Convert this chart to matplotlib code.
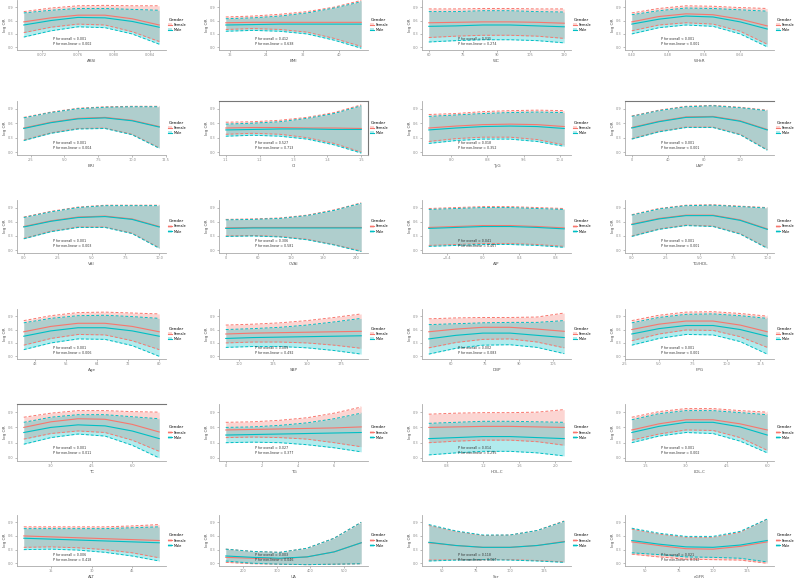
import matplotlib.pyplot as plt
from matplotlib.patches import Patch
from matplotlib.lines import Line2D
from matplotlib.ticker import MaxNLocator

# panel order: row by row, 4 panels per row
x_names = ["ABSI", "BMI", "WC", "WHtR",
           "BRI", "CI", "TyG", "LAP",
           "VAI", "CVAI", "AIP", "TG/HDL",
           "Age", "SBP", "DBP", "FPG",
           "TC", "TG", "HDL-C", "LDL-C",
           "ALT", "UA", "Scr", "eGFR"]

x_values = [
    [0.070, 0.073, 0.076, 0.079, 0.082, 0.085],
    [15, 21, 27, 33, 39, 45],
    [60, 72, 84, 96, 108, 120],
    [0.40, 0.46, 0.52, 0.58, 0.64, 0.70],
    [2, 4, 6, 8, 10, 12],
    [1.1, 1.18, 1.26, 1.34, 1.42, 1.50],
    [7.5, 8.1, 8.7, 9.3, 9.9, 10.5],
    [0, 30, 60, 90, 120, 150],
    [0, 2, 4, 6, 8, 10],
    [0, 50, 100, 150, 200, 250],
    [-0.6, -0.3, 0.0, 0.3, 0.6, 0.9],
    [0, 2, 4, 6, 8, 10],
    [45, 52, 59, 66, 73, 80],
    [90, 110, 130, 150, 170, 190],
    [50, 62, 74, 86, 98, 110],
    [3, 5, 7, 9, 11, 13],
    [2, 3, 4, 5, 6, 7],
    [0, 1.5, 3, 4.5, 6, 7.5],
    [0.6, 0.9, 1.2, 1.5, 1.8, 2.1],
    [1, 2, 3, 4, 5, 6],
    [5, 15, 25, 35, 45, 55],
    [150, 230, 310, 390, 470, 550],
    [40, 60, 80, 100, 120, 140],
    [40, 60, 80, 100, 120, 140],
]

female_fit = [
    [0.57, 0.66, 0.72, 0.72, 0.64, 0.50], [0.55, 0.56, 0.56, 0.56, 0.56, 0.56],
    [0.55, 0.56, 0.57, 0.57, 0.56, 0.54], [0.57, 0.69, 0.75, 0.73, 0.63, 0.48],
    [0.50, 0.62, 0.70, 0.72, 0.66, 0.53], [0.50, 0.51, 0.51, 0.50, 0.50, 0.49],
    [0.50, 0.54, 0.57, 0.58, 0.57, 0.53], [0.51, 0.64, 0.73, 0.74, 0.65, 0.47],
    [0.50, 0.62, 0.70, 0.72, 0.66, 0.50], [0.47, 0.48, 0.48, 0.48, 0.48, 0.48],
    [0.48, 0.50, 0.52, 0.52, 0.50, 0.47], [0.55, 0.67, 0.74, 0.74, 0.64, 0.45],
    [0.55, 0.67, 0.74, 0.74, 0.67, 0.55], [0.50, 0.52, 0.53, 0.54, 0.55, 0.56],
    [0.55, 0.61, 0.65, 0.65, 0.61, 0.56], [0.60, 0.72, 0.79, 0.79, 0.70, 0.55],
    [0.60, 0.71, 0.77, 0.76, 0.66, 0.51], [0.55, 0.56, 0.57, 0.58, 0.59, 0.61],
    [0.60, 0.61, 0.62, 0.62, 0.61, 0.60], [0.55, 0.67, 0.75, 0.75, 0.67, 0.55],
    [0.60, 0.58, 0.56, 0.54, 0.52, 0.50], [0.13, 0.11, 0.10, 0.14, 0.25, 0.45],
    [0.45, 0.39, 0.35, 0.35, 0.39, 0.48], [0.47, 0.39, 0.32, 0.31, 0.37, 0.47],
]
female_lo = [
    [0.33, 0.45, 0.52, 0.50, 0.35, 0.13], [0.40, 0.42, 0.40, 0.34, 0.20, 0.02],
    [0.22, 0.25, 0.27, 0.27, 0.25, 0.20], [0.37, 0.50, 0.55, 0.52, 0.36, 0.07],
    [0.25, 0.40, 0.49, 0.50, 0.37, 0.09], [0.37, 0.39, 0.37, 0.30, 0.18, 0.00],
    [0.22, 0.28, 0.31, 0.31, 0.26, 0.15], [0.28, 0.43, 0.52, 0.52, 0.37, 0.05],
    [0.25, 0.40, 0.49, 0.49, 0.36, 0.05], [0.30, 0.31, 0.29, 0.23, 0.12, -0.02],
    [0.10, 0.12, 0.14, 0.14, 0.12, 0.08], [0.30, 0.45, 0.53, 0.51, 0.35, 0.05],
    [0.25, 0.40, 0.49, 0.48, 0.35, 0.15], [0.30, 0.32, 0.32, 0.30, 0.25, 0.18],
    [0.19, 0.31, 0.38, 0.39, 0.32, 0.19], [0.35, 0.50, 0.59, 0.58, 0.44, 0.20],
    [0.37, 0.48, 0.53, 0.50, 0.35, 0.13], [0.40, 0.41, 0.40, 0.37, 0.30, 0.22],
    [0.30, 0.33, 0.35, 0.35, 0.32, 0.25], [0.35, 0.47, 0.55, 0.54, 0.40, 0.15],
    [0.35, 0.36, 0.34, 0.30, 0.23, 0.12], [0.02, -0.01, -0.02, -0.03, -0.02, -0.01],
    [0.07, 0.08, 0.08, 0.08, 0.06, 0.03], [0.20, 0.14, 0.09, 0.08, 0.07, 0.00],
]
female_hi = [
    [0.80, 0.88, 0.93, 0.94, 0.93, 0.93], [0.68, 0.70, 0.74, 0.80, 0.90, 1.05],
    [0.86, 0.86, 0.87, 0.87, 0.86, 0.86], [0.77, 0.87, 0.93, 0.92, 0.89, 0.87],
    [0.72, 0.83, 0.91, 0.94, 0.95, 0.95], [0.62, 0.63, 0.66, 0.72, 0.82, 0.98],
    [0.78, 0.80, 0.84, 0.86, 0.87, 0.86], [0.75, 0.87, 0.95, 0.97, 0.93, 0.87],
    [0.70, 0.82, 0.91, 0.95, 0.95, 0.95], [0.65, 0.66, 0.68, 0.74, 0.85, 1.00],
    [0.88, 0.90, 0.92, 0.92, 0.90, 0.88], [0.75, 0.88, 0.95, 0.96, 0.93, 0.90],
    [0.80, 0.91, 0.98, 0.99, 0.97, 0.95], [0.70, 0.72, 0.75, 0.80, 0.87, 0.95],
    [0.84, 0.86, 0.87, 0.87, 0.88, 0.97], [0.80, 0.92, 0.99, 1.00, 0.96, 0.90],
    [0.80, 0.88, 0.93, 0.93, 0.91, 0.90], [0.70, 0.71, 0.74, 0.79, 0.88, 1.00],
    [0.86, 0.88, 0.89, 0.89, 0.90, 0.95], [0.80, 0.91, 0.97, 0.97, 0.93, 0.90],
    [0.80, 0.80, 0.80, 0.80, 0.82, 0.85], [0.31, 0.26, 0.24, 0.33, 0.55, 0.90],
    [0.83, 0.70, 0.61, 0.62, 0.72, 0.93], [0.75, 0.64, 0.57, 0.57, 0.68, 0.97],
]

male_fit = [
    [0.50, 0.60, 0.67, 0.66, 0.58, 0.45], [0.50, 0.51, 0.52, 0.52, 0.52, 0.52],
    [0.47, 0.48, 0.50, 0.50, 0.48, 0.46], [0.52, 0.63, 0.70, 0.68, 0.57, 0.41],
    [0.49, 0.61, 0.69, 0.71, 0.65, 0.52], [0.46, 0.47, 0.48, 0.48, 0.47, 0.47],
    [0.46, 0.50, 0.53, 0.54, 0.53, 0.49], [0.50, 0.63, 0.72, 0.73, 0.64, 0.46],
    [0.49, 0.61, 0.69, 0.71, 0.65, 0.49], [0.46, 0.47, 0.47, 0.47, 0.47, 0.47],
    [0.46, 0.48, 0.50, 0.50, 0.48, 0.45], [0.54, 0.66, 0.73, 0.73, 0.63, 0.44],
    [0.45, 0.57, 0.64, 0.64, 0.57, 0.45], [0.40, 0.42, 0.43, 0.44, 0.45, 0.46],
    [0.39, 0.47, 0.52, 0.52, 0.47, 0.42], [0.50, 0.62, 0.69, 0.69, 0.60, 0.45],
    [0.50, 0.60, 0.65, 0.63, 0.53, 0.38], [0.45, 0.46, 0.47, 0.48, 0.49, 0.50],
    [0.38, 0.40, 0.42, 0.42, 0.40, 0.38], [0.50, 0.62, 0.70, 0.70, 0.61, 0.45],
    [0.55, 0.53, 0.51, 0.49, 0.47, 0.45], [0.16, 0.13, 0.11, 0.14, 0.25, 0.45],
    [0.46, 0.39, 0.35, 0.35, 0.39, 0.47], [0.50, 0.42, 0.36, 0.35, 0.40, 0.50],
]
male_lo = [
    [0.23, 0.37, 0.46, 0.44, 0.30, 0.07], [0.36, 0.38, 0.36, 0.30, 0.16, -0.02],
    [0.12, 0.15, 0.17, 0.17, 0.15, 0.10], [0.30, 0.44, 0.50, 0.47, 0.30, 0.01],
    [0.24, 0.39, 0.48, 0.49, 0.36, 0.08], [0.33, 0.35, 0.33, 0.27, 0.15, -0.02],
    [0.18, 0.24, 0.27, 0.27, 0.22, 0.12], [0.27, 0.42, 0.51, 0.51, 0.36, 0.04],
    [0.24, 0.39, 0.48, 0.48, 0.35, 0.04], [0.29, 0.30, 0.28, 0.22, 0.11, -0.03],
    [0.08, 0.10, 0.12, 0.12, 0.10, 0.06], [0.29, 0.44, 0.52, 0.50, 0.34, 0.04],
    [0.15, 0.30, 0.39, 0.38, 0.24, 0.00], [0.20, 0.22, 0.22, 0.19, 0.13, 0.05],
    [0.05, 0.18, 0.25, 0.26, 0.20, 0.06], [0.25, 0.40, 0.49, 0.48, 0.33, 0.05],
    [0.27, 0.40, 0.47, 0.43, 0.25, 0.00], [0.30, 0.31, 0.30, 0.26, 0.20, 0.12],
    [0.06, 0.10, 0.13, 0.13, 0.10, 0.04], [0.30, 0.43, 0.50, 0.48, 0.33, 0.10],
    [0.30, 0.31, 0.29, 0.24, 0.16, 0.05], [0.05, 0.00, -0.02, -0.03, -0.02, -0.01],
    [0.05, 0.07, 0.08, 0.07, 0.05, 0.02], [0.23, 0.19, 0.14, 0.13, 0.11, 0.03],
]
male_hi = [
    [0.77, 0.83, 0.87, 0.87, 0.85, 0.83], [0.64, 0.66, 0.70, 0.77, 0.88, 1.02],
    [0.80, 0.80, 0.82, 0.82, 0.80, 0.79], [0.73, 0.82, 0.88, 0.87, 0.84, 0.81],
    [0.71, 0.82, 0.90, 0.93, 0.94, 0.94], [0.58, 0.60, 0.63, 0.70, 0.80, 0.96],
    [0.74, 0.77, 0.80, 0.82, 0.83, 0.82], [0.74, 0.86, 0.94, 0.96, 0.92, 0.86],
    [0.69, 0.81, 0.90, 0.94, 0.94, 0.94], [0.64, 0.65, 0.67, 0.73, 0.84, 0.99],
    [0.86, 0.88, 0.90, 0.90, 0.88, 0.86], [0.74, 0.87, 0.94, 0.95, 0.92, 0.89],
    [0.75, 0.85, 0.91, 0.92, 0.89, 0.85], [0.60, 0.62, 0.65, 0.70, 0.77, 0.85],
    [0.71, 0.73, 0.75, 0.76, 0.76, 0.80], [0.75, 0.87, 0.94, 0.95, 0.91, 0.85],
    [0.70, 0.80, 0.85, 0.85, 0.81, 0.77], [0.60, 0.61, 0.64, 0.69, 0.77, 0.88],
    [0.68, 0.70, 0.72, 0.72, 0.71, 0.70], [0.75, 0.87, 0.93, 0.93, 0.89, 0.85],
    [0.76, 0.76, 0.76, 0.76, 0.78, 0.80], [0.31, 0.26, 0.24, 0.33, 0.55, 0.90],
    [0.85, 0.71, 0.62, 0.62, 0.72, 0.92], [0.77, 0.66, 0.59, 0.59, 0.70, 0.97],
]

p_overall = ["< 0.001", "= 0.412", "= 0.035", "< 0.001",
             "< 0.001", "= 0.527", "= 0.018", "< 0.001",
             "< 0.001", "= 0.306", "= 0.041", "< 0.001",
             "< 0.001", "= 0.009", "= 0.002", "< 0.001",
             "< 0.001", "= 0.027", "= 0.014", "< 0.001",
             "= 0.006", "= 0.003", "= 0.118", "= 0.021"]
p_nonlinear = ["= 0.002", "= 0.638", "= 0.274", "< 0.001",
               "= 0.004", "= 0.713", "= 0.352", "< 0.001",
               "= 0.003", "= 0.581", "= 0.467", "< 0.001",
               "= 0.006", "= 0.492", "= 0.083", "< 0.001",
               "= 0.011", "= 0.377", "= 0.295", "= 0.002",
               "= 0.418", "= 0.046", "= 0.067", "= 0.012"]

groups = ["Female", "Male"]
FEMALE = "#F8766D"
MALE = "#00BFC4"

W, H = 797, 581
fig = plt.figure(figsize=(W / 100, H / 100), dpi=100)

# pixel layout of the plot panels
col_left = [17, 219, 422, 625]
col_width = 149
row_span = [(0, 50), (101, 155), (200, 253), (309, 359), (404, 461), (515, 566)]
boxed = {5}          # panel drawn with a full frame
top_line = {7, 16}   # panels with a line along the top

for i in range(24):
    r, c = divmod(i, 4)
    top, bot = row_span[r]
    ax = fig.add_axes([col_left[c] / W, 1 - bot / H, col_width / W, (bot - top) / H])
    x = x_values[i]

    ax.fill_between(x, female_lo[i], female_hi[i], color=FEMALE, alpha=0.3, lw=0)
    ax.fill_between(x, male_lo[i], male_hi[i], color=MALE, alpha=0.3, lw=0)
    for fit, lo, hi, col in [(female_fit[i], female_lo[i], female_hi[i], FEMALE),
                             (male_fit[i], male_lo[i], male_hi[i], MALE)]:
        ax.plot(x, fit, color=col, lw=0.8)
        ax.plot(x, lo, color=col, lw=0.7, ls=(0, (3, 2)))
        ax.plot(x, hi, color=col, lw=0.7, ls=(0, (3, 2)))

    span = x[-1] - x[0]
    ax.set_xlim(x[0] - 0.05 * span, x[-1] + 0.05 * span)
    ax.set_ylim(-0.06, 1.06)
    ax.xaxis.set_major_locator(MaxNLocator(5))
    ax.yaxis.set_major_locator(MaxNLocator(4))

    for s in ["top", "right"]:
        ax.spines[s].set_visible(i in boxed or (s == "top" and i in top_line))
        ax.spines[s].set_color("#777777")
        ax.spines[s].set_linewidth(0.8)
    for s in ["left", "bottom"]:
        ax.spines[s].set_color("#aaaaaa")
        ax.spines[s].set_linewidth(0.6)
    ax.tick_params(labelsize=2.5, length=1.5, width=0.4, colors="#888888", pad=1)
    ax.set_xlabel(x_names[i], fontsize=3, color="#555555", labelpad=1)
    ax.set_ylabel("log OR", fontsize=3, color="#555555", labelpad=1)

    ax.text(0.24, 0.26, "P for overall " + p_overall[i] + "\nP for non-linear " + p_nonlinear[i],
            transform=ax.transAxes, fontsize=2.3, color="#333333", va="top", linespacing=1.3)

    handles = [(Patch(facecolor=FEMALE, alpha=0.3), Line2D([], [], color=FEMALE, lw=0.8)),
               (Patch(facecolor=MALE, alpha=0.3), Line2D([], [], color=MALE, lw=0.8))]
    leg = ax.legend(handles, groups, title="Gender", loc="center left", bbox_to_anchor=(1.0, 0.5),
                    frameon=False, fontsize=2.5, title_fontsize=3, handlelength=1.0,
                    handleheight=0.9, labelspacing=0.3, handletextpad=0.4, borderpad=0.2)
    leg._legend_box.align = "left"

fig.savefig("out.png", dpi=100)
